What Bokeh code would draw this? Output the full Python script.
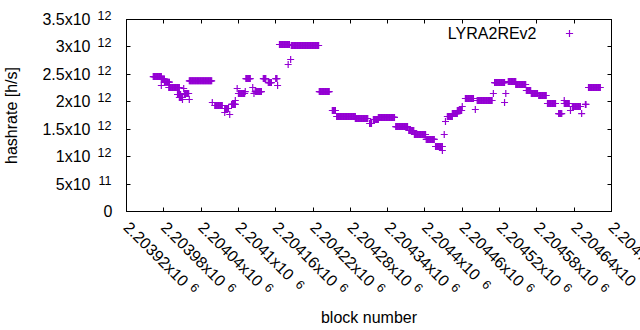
import math
from bokeh.plotting import figure
from bokeh.models import (Range1d, FixedTicker, LinearAxis, Label, Legend, LegendItem)
from bokeh.embed import file_html
from bokeh.resources import INLINE

# ---- data: runs of consecutive blocks sharing one hashrate (units of 1e12 h/s)
run_start = [2203963, 2203976, 2203981, 2203976, 2203988, 2204002, 2204005, 2204012,
             2204010, 2204013, 2204021, 2204021, 2204058, 2204062, 2204078, 2204078,
             2204086, 2204089, 2204095, 2204098, 2204100, 2204111, 2204112, 2204123,
             2204125, 2204127, 2204140, 2204148, 2204160, 2204163, 2204166, 2204180,
             2204184, 2204185, 2204230, 2204251, 2204258, 2204288, 2204311, 2204317,
             2204325, 2204353, 2204374, 2204383, 2204402, 2204417, 2204428, 2204431,
             2204433, 2204436, 2204444, 2204452, 2204460, 2204465, 2204481, 2204484,
             2204510, 2204512, 2204528, 2204530, 2204534, 2204546, 2204563, 2204571,
             2204583, 2204597, 2204615, 2204624, 2204624, 2204634, 2204637, 2204652,
             2204658, 2204663]
run_end = [2203976, 2203981, 2203989, 2203976, 2204005, 2204007, 2204010, 2204012,
           2204010, 2204020, 2204021, 2204057, 2204058, 2204074, 2204084, 2204078,
           2204086, 2204095, 2204095, 2204098, 2204110, 2204111, 2204119, 2204123,
           2204125, 2204137, 2204144, 2204153, 2204162, 2204163, 2204182, 2204180,
           2204184, 2204229, 2204246, 2204256, 2204288, 2204308, 2204314, 2204325,
           2204351, 2204372, 2204382, 2204401, 2204415, 2204428, 2204428, 2204431,
           2204433, 2204444, 2204452, 2204459, 2204460, 2204478, 2204481, 2204508,
           2204510, 2204528, 2204528, 2204530, 2204546, 2204562, 2204570, 2204581,
           2204595, 2204610, 2204620, 2204624, 2204632, 2204634, 2204650, 2204652,
           2204659, 2204682]
run_hashrate = [2.460, 2.415, 2.357, 2.297, 2.260, 2.133, 2.078, 2.242,
                2.042, 2.151, 2.042, 2.383, 1.987, 1.932, 1.878, 1.805,
                1.768, 1.951, 2.023, 2.242, 2.151, 2.187, 2.424, 2.260,
                2.151, 2.187, 2.424, 2.351, 2.424, 2.297, 3.044, 2.680,
                2.771, 3.026, 2.187, 1.841, 1.732, 1.695, 1.604, 1.677,
                1.714, 1.549, 1.477, 1.404, 1.313, 1.185, 1.112, 1.404,
                1.641, 1.732, 1.786, 1.841, 1.914, 2.060, 1.859, 2.023,
                2.151, 2.351, 1.987, 2.151, 2.369, 2.315, 2.206, 2.151,
                2.115, 1.969, 1.786, 2.023, 1.969, 1.841, 1.914, 1.786,
                1.951, 2.260]

series_name = "LYRA2REv2"

x_tick_values = [2203920, 2203980, 2204040, 2204100, 2204160, 2204220, 2204280,
                 2204340, 2204400, 2204460, 2204520, 2204580, 2204640, 2204700]
x_tick_mantissas = ["2.20392", "2.20398", "2.20404", "2.2041", "2.20416", "2.20422",
                    "2.20428", "2.20434", "2.2044", "2.20446", "2.20452", "2.20458",
                    "2.20464", "2.2047"]
x_tick_exponent = "6"
y_tick_values = [0, 0.5e12, 1.0e12, 1.5e12, 2.0e12, 2.5e12, 3.0e12, 3.5e12]
y_tick_mantissas = ["0", "5x10", "1x10", "1.5x10", "2x10", "2.5x10", "3x10", "3.5x10"]
y_tick_exponents = ["", "11", "12", "12", "12", "12", "12", "12"]

x_title = "block number"
y_title = "hashrate [h/s]"

# ---- expand runs
block, hashrate = [], []
for s, e, v in zip(run_start, run_end, run_hashrate):
    for b in range(s, e + 1):
        block.append(b)
        hashrate.append(v * 1e12)

COLOR = "#9400D3"
FONT = "Liberation Sans"
FS = 16.0
SUP = 12.5
FRAME_W, FRAME_H = 485, 192
C45 = math.cos(math.pi / 4)

ADV = {c: 0.556 for c in "0123456789"}
ADV["."] = 0.278
ADV["x"] = 0.5
ADV[" "] = 0.278


def text_width(s, size):
    return size * sum(ADV.get(c, 0.556) for c in s)


def text_height(size):
    return size * 1.117


x0, x1 = x_tick_values[0], x_tick_values[-1]
y0, y1 = y_tick_values[0], y_tick_values[-1]
bpp = (x1 - x0) / FRAME_W      # blocks per pixel

p = figure(frame_width=FRAME_W, frame_height=FRAME_H,
           x_range=Range1d(x0, x1), y_range=Range1d(y0, y1),
           output_backend="svg", toolbar_location=None,
           min_border_left=124, min_border_right=31,
           min_border_top=19, min_border_bottom=119)
p.xgrid.visible = False
p.ygrid.visible = False
p.outline_line_color = "black"
p.outline_line_width = 1
p.background_fill_color = "white"
p.border_fill_color = "white"

ax_main = p.below[0]
ay_main = p.left[0]


def style(ax, font_size, standoff, show_line):
    ax.major_tick_in = 4 if show_line else 0
    ax.major_tick_out = 0
    ax.minor_tick_in = 0
    ax.minor_tick_out = 0
    ax.major_label_standoff = int(round(standoff))
    ax.major_label_text_font = FONT
    ax.major_label_text_font_size = f"{font_size}px"
    ax.major_label_text_color = "black"
    ax.axis_line_color = "black" if show_line else None
    ax.major_tick_line_color = "black" if show_line else None
    ax.axis_label_text_font = FONT
    ax.axis_label_text_font_size = f"{FS}px"
    ax.axis_label_text_font_style = "normal"
    ax.axis_label_text_color = "black"


# mirror axes (ticks only)
for side in ("above", "right"):
    ax = LinearAxis(ticker=FixedTicker(ticks=x_tick_values if side == "above" else y_tick_values))
    style(ax, FS, 0, True)
    ax.major_label_text_color = None
    p.add_layout(ax, side)

# ---- y axes: [ticks + "0"] , [exponents, raised], [mantissas + title]
ay_main.ticker = FixedTicker(ticks=y_tick_values)
style(ay_main, FS, 14, True)
ay_main.major_label_overrides = {v: (m if e == "" else " ")
                                 for v, m, e in zip(y_tick_values, y_tick_mantissas, y_tick_exponents)}
ext_a = 14 + max(text_width(m if e == "" else " ", FS)
                 for m, e in zip(y_tick_mantissas, y_tick_exponents))

by = LinearAxis(ticker=FixedTicker(ticks=y_tick_values))
sup_gap = 12
st_b = sup_gap - ext_a            # right edge of exponents 12 px from frame
style(by, SUP, st_b, False)
# second (blank) line lifts the exponent above the mantissa's centre line
by.major_label_overrides = {v: (e + "\n " if e else " ") for v, e in zip(y_tick_values, y_tick_exponents)}
by.major_label_text_line_height = 0.5
p.add_layout(by, "left")
ext_b = int(round(st_b)) + max(text_width(e if e else " ", SUP) for e in y_tick_exponents)

cy = LinearAxis(ticker=FixedTicker(ticks=y_tick_values))
st_c = (124 - ext_a - ext_b) - 94
style(cy, FS, st_c, False)
cy.major_label_overrides = {v: (m if e else " ")
                            for v, m, e in zip(y_tick_values, y_tick_mantissas, y_tick_exponents)}
cy.axis_label = y_title
cy.axis_label_standoff = 19
p.add_layout(cy, "left")

# ---- x axes: [ticks + mantissas], [exponent for long labels], [exponent for short]
main_txt = [m + "x10" for m in x_tick_mantissas]
# keep the edge label unclamped: it must not be first or last in the tick list
tick_order = [x_tick_values[0], x_tick_values[-1], x_tick_values[-2]] + x_tick_values[1:-2]
ax_main.ticker = FixedTicker(ticks=tick_order)
st_x = 13
style(ax_main, FS, st_x, True)
ax_main.major_label_orientation = -math.pi / 4
ax_main.major_label_overrides = {t: s for t, s in zip(x_tick_values, main_txt)}
ext_x = st_x + max((text_width(s, FS) + text_height(FS)) * C45 for s in main_txt)

gap, rise = 4, 5
widths = sorted(set(round(text_width(s, FS), 3) for s in main_txt), reverse=True)
axis_y = 211 + ext_x
last = None
for i, w in enumerate(widths):
    dx = (w + gap + rise) * C45
    target = 211 + st_x + (w + gap - rise) * C45
    name = f"xsup{i}"
    p.extra_x_ranges[name] = Range1d(x0 - dx * bpp, x1 - dx * bpp)
    bx = LinearAxis(x_range_name=name, ticker=FixedTicker(ticks=x_tick_values))
    st = int(round(target - axis_y))
    style(bx, SUP, st, False)
    bx.major_label_orientation = -math.pi / 4
    bx.major_label_overrides = {t: (x_tick_exponent if round(text_width(s, FS), 3) == w else " ")
                                for t, s in zip(x_tick_values, main_txt)}
    p.add_layout(bx, "below")
    axis_y += st + (text_width(x_tick_exponent, SUP) + text_height(SUP)) * C45
    last = bx
last.axis_label = x_title
last.axis_label_standoff = int(round(300 - axis_y))

r = p.scatter(block, hashrate, marker="cross", size=7, line_color=COLOR,
              line_width=1.2)

# ---- key
p.add_layout(Label(x=x1, y=y1, x_offset=-75, y_offset=-14, text=series_name,
                   text_align="right", text_baseline="middle", text_font=FONT,
                   text_font_size=f"{FS}px", text_color="black"))
legend = Legend(items=[LegendItem(label=" ", renderers=[r])], location=(434, 169),
                padding=0, margin=0, glyph_width=18, glyph_height=18,
                label_height=18, label_width=0, label_standoff=0,
                label_text_font_size="1px", border_line_color=None,
                background_fill_alpha=0)
p.add_layout(legend)

open("out.html", "w").write(file_html(p, INLINE))
